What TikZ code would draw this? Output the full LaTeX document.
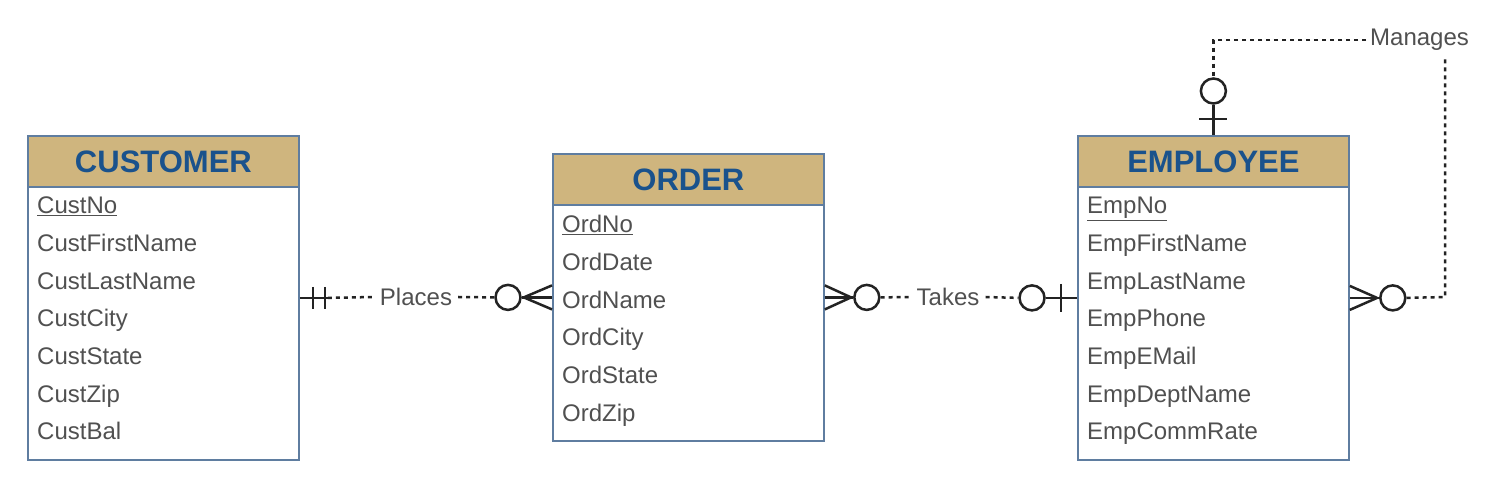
\documentclass[tikz,border=0pt]{standalone}
\usepackage{fontspec}
\setmainfont{Liberation Sans}
\usetikzlibrary{calc}
\definecolor{hdrfill}{RGB}{207,181,126}
\definecolor{hdrtext}{RGB}{26,82,140}
\definecolor{boxline}{RGB}{95,125,160}
\definecolor{txt}{RGB}{80,80,80}
\definecolor{lnk}{RGB}{35,35,35}
\begin{document}
\begin{tikzpicture}[x=1pt,y=-1pt,
 tbl/.style={draw=boxline, line width=1.8pt, fill=white, minimum width=271pt, inner sep=0, anchor=north west},
 hdr/.style={draw=boxline, line width=1.8pt, fill=hdrfill, minimum width=271pt, minimum height=51pt, inner sep=0, anchor=north west, font=\fontsize{31}{31}\selectfont\bfseries, text=hdrtext},
 attr/.style={anchor=base west, inner sep=0, font=\fontsize{24}{24}\selectfont, text=txt},
 lbl/.style={inner xsep=6pt, inner ysep=2pt, font=\fontsize{24}{24}\selectfont, text=txt},
 sym/.style={draw=lnk, line width=2.5pt},
 ring/.style={draw=lnk, line width=2.5pt, circle, minimum size=25pt, inner sep=0},
 dotln/.style={draw=lnk, line width=2.5pt, dash pattern=on 4pt off 4pt},
]
\useasboundingbox (0,0) rectangle (1486,486);
\fill[white] (0,0) rectangle (1486,486);

% CUSTOMER
\node[tbl, minimum height=324pt] (cust) at (27,135) {};
\node[hdr] (custh) at (27,135) {CUSTOMER};
\node[attr] (ca0) at (37,214) {\underline{CustNo}};
\foreach \t [count=\i] in {CustFirstName,CustLastName,CustCity,CustState,CustZip,CustBal}
  \node[attr] (ca\i) at (37,214+37.6*\i) {\t};

% ORDER
\node[tbl, minimum height=287pt] (ord) at (552,153) {};
\node[hdr] (ordh) at (552,153) {ORDER};
\node[attr] (oa0) at (562,233) {\underline{OrdNo}};
\foreach \t [count=\i] in {OrdDate,OrdName,OrdCity,OrdState,OrdZip}
  \node[attr] (oa\i) at (562,233+37.6*\i) {\t};

% EMPLOYEE
\node[tbl, minimum height=324pt] (emp) at (1077,135) {};
\node[hdr] (emph) at (1077,135) {EMPLOYEE};
\node[attr] (ea0) at (1087,214) {\underline{EmpNo}};
\foreach \t [count=\i] in {EmpFirstName,EmpLastName,EmpPhone,EmpEMail,EmpDeptName,EmpCommRate}
  \node[attr] (ea\i) at (1087,214+37.6*\i) {\t};

% Places
\coordinate (p1) at ($(cust.east)+(28,0)$);
\draw[sym] (cust.east) -- (p1);
\draw[sym] ($(cust.east)+(13,-11)$) -- ++(0,22);
\draw[sym] ($(cust.east)+(25,-11)$) -- ++(0,22);
\node[lbl] (places) at (416,297) {Places};
\node[ring] (pc) at ($(ord.west)+(-44,0)$) {};
\draw[dotln] (p1) -- (places.west);
\draw[dotln] (places.east) -- (pc.west);
\coordinate (pa) at ($(pc.east)+(2,0)$);
\draw[sym] (pc.east) -- (ord.west);
\draw[sym] (pa) -- ($(ord.west)+(0,-12)$);
\draw[sym] (pa) -- ($(ord.west)+(0,12)$);

% Takes
\node[ring] (tc1) at ($(ord.east)+(42,0)$) {};
\coordinate (ta) at ($(tc1.west)+(-2,0)$);
\draw[sym] (ord.east) -- (tc1.west);
\draw[sym] (ta) -- ($(ord.east)+(0,-12)$);
\draw[sym] (ta) -- ($(ord.east)+(0,12)$);
\node[lbl] (takes) at (948,297) {Takes};
\node[ring] (tc2) at ($(emp.west)+(-45,0)$) {};
\draw[dotln] (tc1.east) -- (takes.west);
\draw[dotln] (takes.east) -- (tc2.west);
\draw[sym] (tc2.east) -- (emp.west);
\draw[sym] ($(emp.west)+(-16,-14)$) -- ++(0,28);

% Manages
\node[ring] (mc1) at ($(emp.east)+(43,0)$) {};
\coordinate (ma) at ($(mc1.west)+(-2,0)$);
\draw[sym] (emp.east) -- (mc1.west);
\draw[sym] (ma) -- ($(emp.east)+(0,-12)$);
\draw[sym] (ma) -- ($(emp.east)+(0,12)$);
\node[lbl, anchor=base west, inner xsep=0pt, inner ysep=5pt] (mgr) at (1370,46) {Manages};
\coordinate (mk) at (1445,297);
\draw[dotln] (mc1.east) -- (mk) -- (mk |- mgr.south);
\node[ring] (mc2) at ($(emp.north)+(0,-44)$) {};
\draw[dotln] ($(mgr.west)+(-4,0)$) -| (mc2.north);
\draw[sym] (mc2.south) -- (emp.north);
\draw[sym] ($(emp.north)+(-14,-16)$) -- ++(28,0);
\end{tikzpicture}
\end{document}
